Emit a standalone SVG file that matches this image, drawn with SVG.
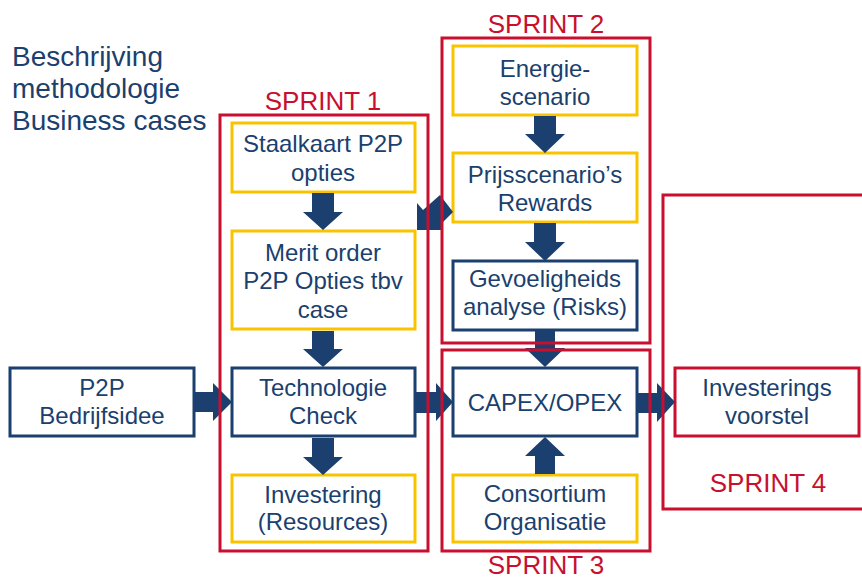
<svg xmlns="http://www.w3.org/2000/svg" width="862" height="579" viewBox="0 0 862 579">
<style>
.t{font-family:"Liberation Sans",Arial,sans-serif;fill:#1b3f6e;font-size:24px;text-anchor:middle}
.title{font-family:"Liberation Sans",Arial,sans-serif;fill:#1b3f6e;font-size:28px}
.sp{font-family:"Liberation Sans",Arial,sans-serif;fill:#c8102e;font-size:26px;text-anchor:middle}
.y{fill:#fff;stroke:#f9c300;stroke-width:3}
.n{fill:#fff;stroke:#1b3f6e;stroke-width:3}
.r{fill:#fff;stroke:#c8102e;stroke-width:3}
.f{fill:none;stroke:#c8102e;stroke-width:3}
.a{fill:#1b3f6e}
</style>
<rect width="862" height="579" fill="#fff"/>
<g id="title">
<text class="title" x="12" y="66">Beschrijving</text>
<text class="title" x="12" y="98">methodologie</text>
<text class="title" x="12" y="130">Business cases</text>
</g>
<g id="p2p"><rect class="n" x="10" y="368" width="184" height="68"/><text class="t" x="102" y="396">P2P</text><text class="t" x="102" y="424">Bedrijfsidee</text></g>
<g id="staalkaart"><rect class="y" x="232" y="123" width="183" height="69"/><text class="t" x="323" y="152">Staalkaart P2P</text><text class="t" x="323" y="181">opties</text></g>
<g id="merit"><rect class="y" x="232" y="231" width="183" height="98"/><text class="t" x="323" y="261">Merit order</text><text class="t" x="323" y="289">P2P Opties tbv</text><text class="t" x="323" y="318">case</text></g>
<g id="technologie"><rect class="n" x="232" y="368" width="183" height="68"/><text class="t" x="323" y="396">Technologie</text><text class="t" x="323" y="424">Check</text></g>
<g id="investering"><rect class="y" x="232" y="475" width="183" height="67"/><text class="t" x="323" y="503">Investering</text><text class="t" x="323" y="530">(Resources)</text></g>
<g id="energie"><rect class="y" x="453" y="46" width="184" height="69"/><text class="t" x="545" y="77">Energie-</text><text class="t" x="545" y="105">scenario</text></g>
<g id="prijs"><rect class="y" x="453" y="153" width="184" height="69"/><text class="t" x="545" y="183">Prijsscenario’s</text><text class="t" x="545" y="211">Rewards</text></g>
<g id="gevoel"><rect class="n" x="453" y="261" width="184" height="69"/><text class="t" x="545" y="287">Gevoeligheids</text><text class="t" x="545" y="315">analyse (Risks)</text></g>
<g id="capex"><rect class="n" x="453" y="368" width="184" height="68"/><text class="t" x="545" y="411">CAPEX/OPEX</text></g>
<g id="consortium"><rect class="y" x="453" y="475" width="184" height="67"/><text class="t" x="545" y="502">Consortium</text><text class="t" x="545" y="530">Organisatie</text></g>
<g id="voorstel"><rect class="r" x="675" y="368" width="184" height="68"/><text class="t" x="767" y="396">Investerings</text><text class="t" x="767" y="424">voorstel</text></g>
<g id="connectors">
<polygon class="a" points="312,193 334,193 334,212 343,212 323,230 303,212 312,212"/>
<polygon class="a" points="312,331 334,331 334,349 343,349 323,367 303,349 312,349"/>
<polygon class="a" points="312,438 334,438 334,457 343,457 323,475 303,457 312,457"/>
<polygon class="a" points="534,116 556,116 556,134 565,134 545,153 525,134 534,134"/>
<polygon class="a" points="534,223 556,223 556,242 565,242 545,261 525,242 534,242"/>
<polygon class="a" points="535,331 555,331 555,348 565,348 545,367 525,348 535,348"/>
<polygon class="a" points="535,474 555,474 555,456 565,456 545,437 525,456 535,456"/>
<polygon class="a" points="195,392 213,392 213,383 232,402 213,421 213,412 195,412"/>
<polygon class="a" points="416,392 436,392 436,383 453,402 436,421 436,413 416,413"/>
<polygon class="a" points="638,393 657,393 657,383 675,402 657,422 657,413 638,413"/>
<polygon class="a" points="417,203 423,210 440,195 453,212 441,224 441,230 417,230"/>
</g>
<g id="sprint1"><rect class="f" x="220" y="115" width="208" height="436"/><text class="sp" x="323" y="110">SPRINT 1</text></g>
<g id="sprint2"><rect class="f" x="442" y="38" width="208" height="305"/><text class="sp" x="546" y="33">SPRINT 2</text></g>
<g id="sprint3"><rect class="f" x="442" y="350" width="208" height="201"/><text class="sp" x="546" y="574">SPRINT 3</text></g>
<g id="sprint4"><rect class="f" x="663" y="195" width="230" height="314"/><text class="sp" x="768" y="492">SPRINT 4</text></g>
</svg>
